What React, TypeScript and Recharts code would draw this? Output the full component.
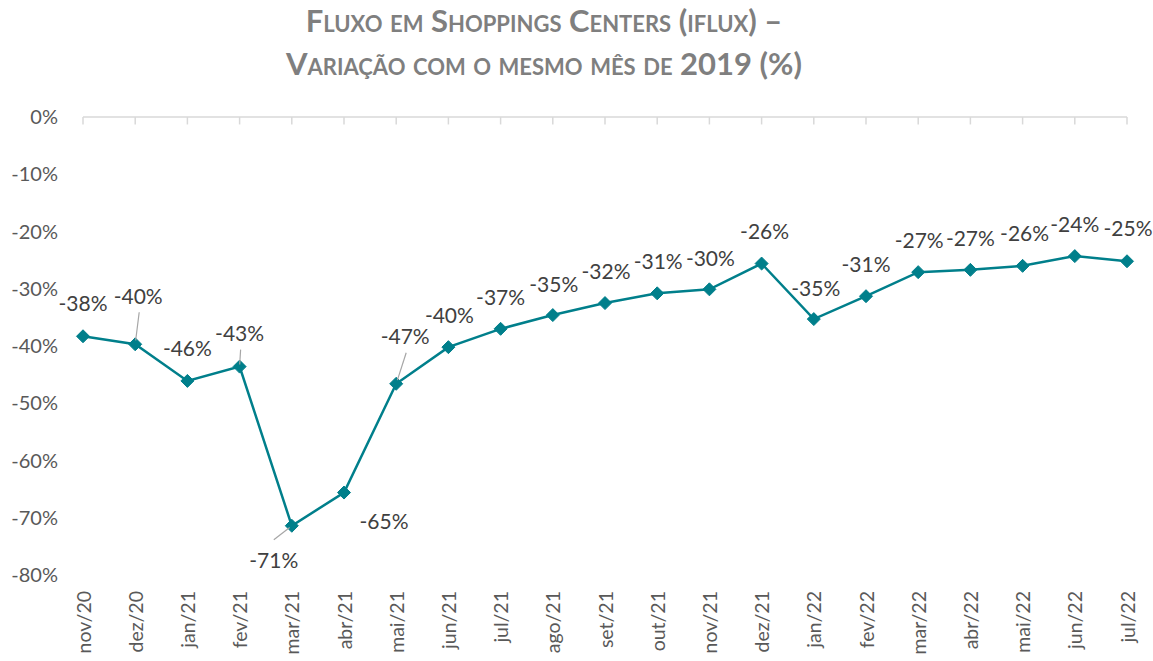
import React from 'react';
import { LineChart, Line, XAxis, YAxis, LabelList, ReferenceLine } from 'recharts';

const categories = ['nov/20','dez/20','jan/21','fev/21','mar/21','abr/21','mai/21','jun/21','jul/21','ago/21','set/21','out/21','nov/21','dez/21','jan/22','fev/22','mar/22','abr/22','mai/22','jun/22','jul/22'];
const values = [-38.3,-39.7,-46.1,-43.6,-71.4,-65.6,-46.6,-40.2,-37.0,-34.6,-32.5,-30.8,-30.1,-25.6,-35.3,-31.3,-27.1,-26.7,-26.0,-24.3,-25.2];
const valueLabels = ['-38%','-40%','-46%','-43%','-71%','-65%','-47%','-40%','-37%','-35%','-32%','-31%','-30%','-26%','-35%','-31%','-27%','-27%','-26%','-24%','-25%'];
const yTicks = [0,-10,-20,-30,-40,-50,-60,-70,-80];

// label placement (styling): [dx, dy, leader]
const labelPlacement: [number, number, boolean][] = [
  [0,-34,false],[3,-49,true],[0,-33,false],[0,-34,true],[-18,34,true],[40,28,false],[9,-48,true],
  [1,-33,false],[0,-32,false],[1,-32,false],[1,-33,false],[1,-33,false],[1,-32,false],[3,-33,false],
  [2,-32,false],[0,-33,false],[1,-33,false],[0,-32,false],[2,-33,false],[0,-33,false],[1,-34,false],
];

const data = categories.map((c, i) => ({ cat: c, v: values[i], lbl: valueLabels[i] }));

const FONT = 'Lato, "Open Sans", sans-serif';
const TEAL = '#007F8B';

const Diamond = (props: any) => {
  const { cx, cy } = props;
  if (cx == null || cy == null) return null;
  const r = 6.5;
  return <polygon points={`${cx},${cy - r} ${cx + r},${cy} ${cx},${cy + r} ${cx - r},${cy}`} fill={TEAL} stroke={TEAL} strokeWidth={1} />;
};

const DataLabel = (props: any) => {
  const { x, y, index } = props;
  const [dx, dy, leader] = labelPlacement[index];
  const tx = x + dx;
  const ty = y + dy;
  let line = null;
  if (leader) {
    const sx = tx + (dx < 0 ? 0 : 1);
    const sy = dy < 0 ? ty + 17 : ty - 20;
    const ex = x + (sx - x) * 0.12;
    const ey = y + (sy - y) * 0.12;
    line = <line x1={sx} y1={sy} x2={ex} y2={ey} stroke="#a6a6a6" strokeWidth={1.2} />;
  }
  return (
    <g>
      {line}
      <text x={tx} y={ty} textAnchor="middle" dominantBaseline="central" fill="#404040" fontSize={21} fontFamily={FONT}>
        {valueLabels[index]}
      </text>
    </g>
  );
};

const XTick = (props: any) => {
  const { x, payload } = props;
  return (
    <text x={x} y={591} transform={`rotate(-90, ${x}, 591)`} textAnchor="end" dominantBaseline="central" fill="#595959" fontSize={19.5} fontFamily={FONT}>
      {payload.value}
    </text>
  );
};

export default function App() {
  return (
    <div style={{ position: 'absolute', left: 0, top: 0, width: 1153, height: 661, background: '#fff' }}>
      <div style={{ position: 'absolute', left: 0, top: -1, width: 1088, textAlign: 'center', fontFamily: FONT, fontWeight: 700, fontVariant: 'small-caps', color: '#7f7f7f', fontSize: 31, lineHeight: '43px' }}>
        <div>Fluxo em Shoppings Centers (iflux) –</div>
        <div>Variação com o mesmo mês de 2019 (%)</div>
      </div>
      <LineChart width={1153} height={661} data={data} margin={{ top: 117, right: 26, bottom: 0, left: 0 }}>
        <XAxis dataKey="cat" height={86} axisLine={false} tickLine={false} tick={<XTick />} interval={0} />
        <YAxis width={83} domain={[-80, 0]} ticks={yTicks} interval={0} axisLine={false} tickLine={false} tickSize={0} tickMargin={25} tickFormatter={(v: number) => `${v}%`} tick={{ fill: '#595959', fontSize: 20, fontFamily: FONT }} />
        <ReferenceLine y={0} stroke="#d9d9d9" strokeWidth={1.5} />
        {categories.map((c) => (
          <ReferenceLine key={c} segment={[{ x: c, y: 0 }, { x: c, y: -1.3 }]} stroke="#d9d9d9" strokeWidth={1.5} />
        ))}
        <Line dataKey="v" stroke={TEAL} strokeWidth={2.5} dot={<Diamond />} isAnimationActive={false}>
          <LabelList dataKey="lbl" content={<DataLabel />} />
        </Line>
      </LineChart>
    </div>
  );
}
